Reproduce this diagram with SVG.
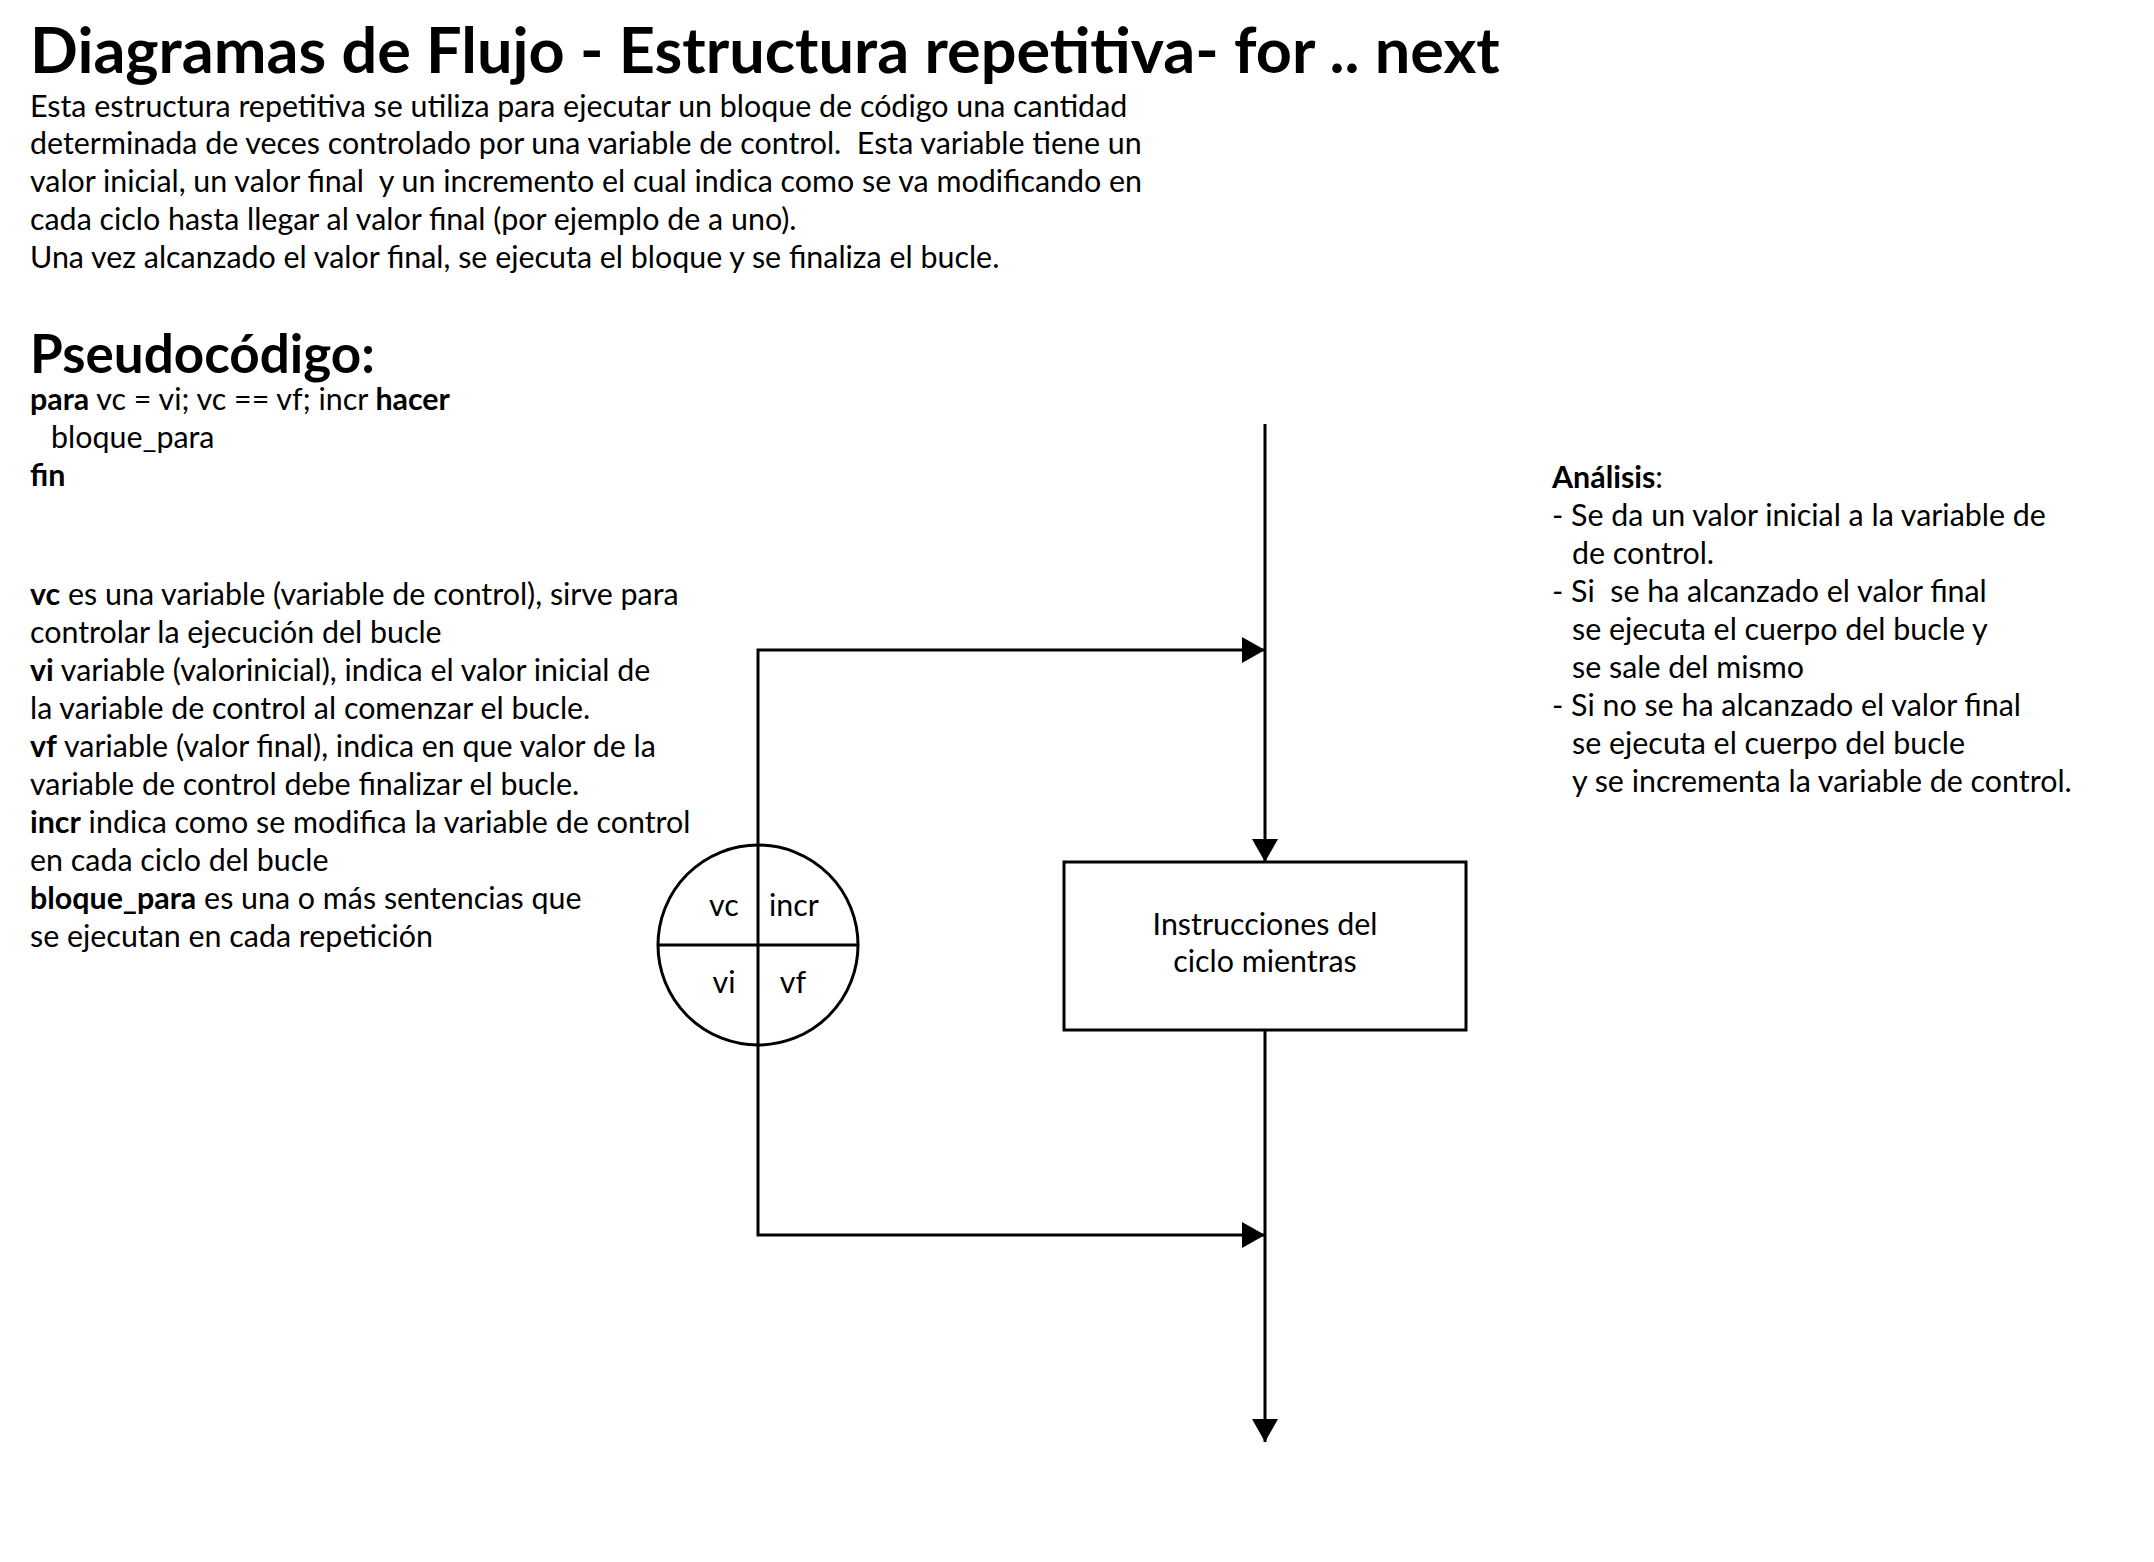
<svg xmlns="http://www.w3.org/2000/svg" width="2154" height="1562" viewBox="0 0 2154 1562">
<style>
text{font-family:Lato,"Open Sans","Liberation Sans",sans-serif;fill:#000;white-space:pre}
.t{font-size:63px;font-weight:bold}
.h{font-size:53px;font-weight:bold}
.b{font-size:30.4px}
.bold{font-weight:bold}
.ln{fill:none;stroke:#000;stroke-width:3}
.ctr{text-anchor:middle}
</style>
<defs>
<marker id="ah" markerUnits="userSpaceOnUse" markerWidth="24" markerHeight="28" refX="23" refY="13" orient="auto">
<path d="M0,0 L23,13 L0,26 Z" fill="#000"/>
</marker>
</defs>
<rect width="2154" height="1562" fill="#fff"/>
<g id="title">
<text class="t" x="30" y="72.5">Diagramas de Flujo - Estructura repetitiva- for .. next</text>
</g>
<g id="intro">
<text class="b" x="30" y="117">Esta estructura repetitiva se utiliza para ejecutar un bloque de código una cantidad</text>
<text class="b" x="30" y="154">determinada de veces controlado por una variable de control.  Esta variable tiene un</text>
<text class="b" x="30" y="192">valor inicial, un valor final  y un incremento el cual indica como se va modificando en</text>
<text class="b" x="30" y="230">cada ciclo hasta llegar al valor final (por ejemplo de a uno).</text>
<text class="b" x="30" y="268">Una vez alcanzado el valor final, se ejecuta el bloque y se finaliza el bucle.</text>
</g>
<g id="pseudocode">
<text class="h" x="30" y="373">Pseudocódigo:</text>
<text class="b" x="30" y="410"><tspan class="bold">para</tspan> vc = vi; vc == vf; incr <tspan class="bold">hacer</tspan></text>
<text class="b" x="51" y="448">bloque_para</text>
<text class="b bold" x="30" y="486">fin</text>
</g>
<g id="description">
<text class="b" x="30" y="605"><tspan class="bold">vc</tspan> es una variable (variable de control), sirve para</text>
<text class="b" x="30" y="643">controlar la ejecución del bucle</text>
<text class="b" x="30" y="681"><tspan class="bold">vi</tspan> variable (valorinicial), indica el valor inicial de</text>
<text class="b" x="30" y="719">la variable de control al comenzar el bucle.</text>
<text class="b" x="30" y="757"><tspan class="bold">vf</tspan> variable (valor final), indica en que valor de la</text>
<text class="b" x="30" y="795">variable de control debe finalizar el bucle.</text>
<text class="b" x="30" y="833"><tspan class="bold">incr</tspan> indica como se modifica la variable de control</text>
<text class="b" x="30" y="871">en cada ciclo del bucle</text>
<text class="b" x="30" y="909"><tspan class="bold">bloque_para</tspan> es una o más sentencias que</text>
<text class="b" x="30" y="947">se ejecutan en cada repetición</text>
</g>
<g id="analysis">
<text class="b" x="1552" y="488"><tspan class="bold">Análisis</tspan>:</text>
<text class="b" x="1552" y="526">- Se da un valor inicial a la variable de</text>
<text class="b" x="1572" y="564">de control.</text>
<text class="b" x="1552" y="602">- Si  se ha alcanzado el valor final</text>
<text class="b" x="1572" y="640">se ejecuta el cuerpo del bucle y</text>
<text class="b" x="1572" y="678">se sale del mismo</text>
<text class="b" x="1552" y="716">- Si no se ha alcanzado el valor final</text>
<text class="b" x="1572" y="754">se ejecuta el cuerpo del bucle</text>
<text class="b" x="1572" y="792">y se incrementa la variable de control.</text>
</g>
<g id="connectors">
<path class="ln" d="M1265,424 V862" marker-end="url(#ah)"/>
<path class="ln" d="M758,845 V650 H1265" marker-end="url(#ah)"/>
<path class="ln" d="M758,1045 V1235 H1265" marker-end="url(#ah)"/>
<path class="ln" d="M1265,1030 V1442" marker-end="url(#ah)"/>
</g>
<g id="for-node">
<circle class="ln" cx="758" cy="945" r="100"/>
<path class="ln" d="M658,945 H858 M758,845 V1045"/>
<text class="b ctr" x="724" y="916">vc</text>
<text class="b ctr" x="794" y="916">incr</text>
<text class="b ctr" x="724" y="993">vi</text>
<text class="b ctr" x="793" y="993">vf</text>
</g>
<g id="body-node">
<rect class="ln" x="1064" y="862" width="402" height="168"/>
<text class="b ctr" x="1265" y="935">Instrucciones del</text>
<text class="b ctr" x="1265" y="972">ciclo mientras</text>
</g>
</svg>
